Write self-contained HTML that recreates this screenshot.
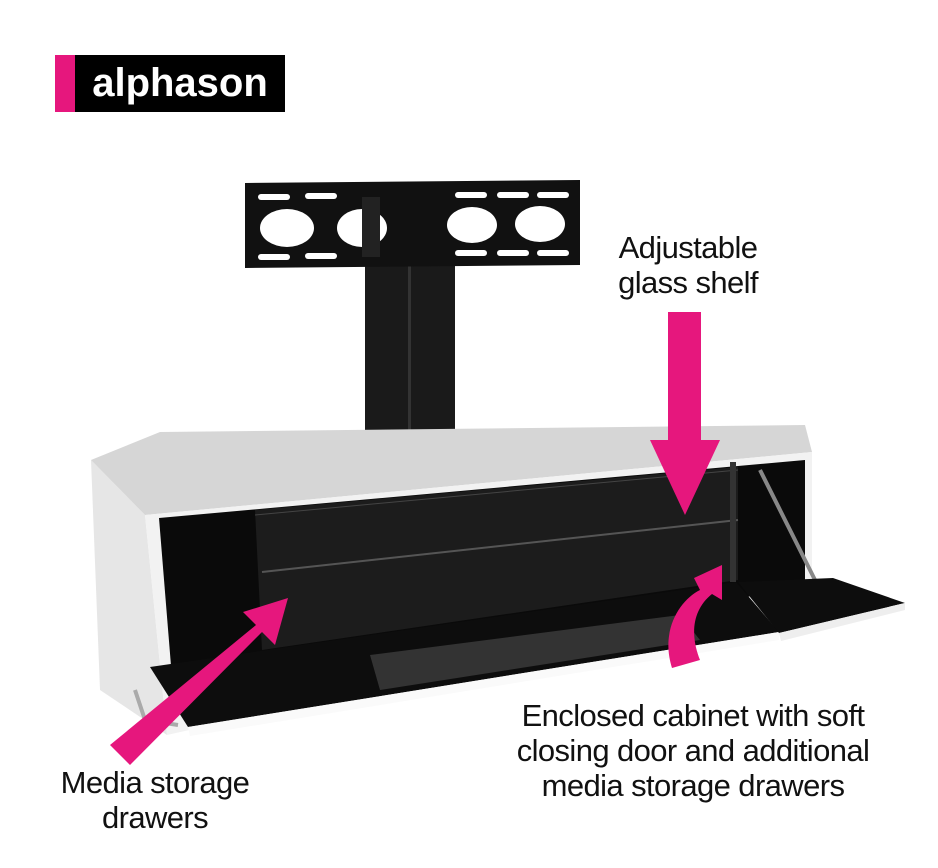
<!DOCTYPE html>
<html><head><meta charset="utf-8"><style>
html,body{margin:0;padding:0;background:#fff}
body{width:938px;height:868px;overflow:hidden;position:relative;font-family:"Liberation Sans",sans-serif}
.t{position:absolute;text-align:center;font-size:31px;line-height:35px;color:#111;letter-spacing:-0.6px}
</style></head><body>
<svg width="938" height="868" style="position:absolute;left:0;top:0">
<rect x="55" y="55" width="20" height="57" fill="#e6177d"/>
<rect x="75" y="55" width="210" height="57" fill="#000"/>
<text x="180" y="96" text-anchor="middle" font-family="Liberation Sans" font-weight="bold" font-size="40" fill="#fff">alphason</text>
<rect x="365" y="262" width="90" height="175" fill="#1a1a1a"/>
<rect x="408" y="262" width="3" height="175" fill="#333"/>
<path d="M245,183 L580,180 L580,265 L245,268 Z" fill="#111"/>
<g fill="#fff">
<ellipse cx="287" cy="228" rx="27" ry="19"/>
<ellipse cx="362" cy="228" rx="25" ry="19"/>
<ellipse cx="472" cy="225" rx="25" ry="18"/>
<ellipse cx="540" cy="224" rx="25" ry="18"/>
<rect x="258" y="194" width="32" height="6" rx="3"/><rect x="305" y="193" width="32" height="6" rx="3"/>
<rect x="455" y="192" width="32" height="6" rx="3"/><rect x="497" y="192" width="32" height="6" rx="3"/><rect x="537" y="192" width="32" height="6" rx="3"/>
<rect x="258" y="254" width="32" height="6" rx="3"/><rect x="305" y="253" width="32" height="6" rx="3"/>
<rect x="455" y="250" width="32" height="6" rx="3"/><rect x="497" y="250" width="32" height="6" rx="3"/><rect x="537" y="250" width="32" height="6" rx="3"/>
</g>
<rect x="362" y="197" width="18" height="60" fill="#222"/>
<path d="M91,460 L145,515 L167,735 L100,690 Z" fill="#e6e6e6"/>
<path d="M91,460 L160,432 L805,425 L812,452 L145,515 Z" fill="#d6d6d6"/>
<path d="M145,515 L812,452 L812,590 L167,735 Z" fill="#f2f2f2"/>
<path d="M159,518 L805,460 L805,585 L175,715 Z" fill="#0a0a0a"/>
<path d="M255,510 L738,467 L738,580 L262,650 Z" fill="#1c1c1c"/>
<line x1="262" y1="572" x2="738" y2="520" stroke="#555" stroke-width="2"/>
<line x1="255" y1="515" x2="738" y2="470" stroke="#444" stroke-width="1"/>
<rect x="730" y="462" width="6" height="120" fill="#333"/>
<line x1="760" y1="470" x2="815" y2="580" stroke="#888" stroke-width="4"/>
<path d="M150,667 L736,582 L779,632 L188,727 Z" fill="#0d0d0d"/>
<path d="M188,727 L779,632 L779,640 L190,736 Z" fill="#fafafa"/>
<path d="M370,655 L680,615 L700,640 L380,690 Z" fill="#333"/>
<path d="M135,690 L145,720 L178,725" stroke="#aaa" stroke-width="4" fill="none"/>
<path d="M738,582 L833,578 L905,603 L779,633 Z" fill="#0d0d0d"/>
<path d="M779,633 L905,603 L905,610 L781,641 Z" fill="#eee"/>
<g fill="#e6177d">
<rect x="668" y="312" width="33" height="130"/>
<path d="M650,440 L720,440 L685,515 Z"/>
<path d="M110,745 L130,765 L262,632 L275,645 L288,598 L243,612 L256,625 Z"/>
<path d="M672,668 C660,630 680,600 700,590 L694,578 L722,565 L722,600 L712,594 C692,610 690,635 700,660 Z"/>
</g>
</svg>
<div class="t" style="left:568px;top:230px;width:240px">Adjustable<br>glass shelf</div>
<div class="t" style="left:10px;top:765px;width:290px">Media storage<br>drawers</div>
<div class="t" style="left:463px;top:698px;width:460px">Enclosed cabinet with soft<br>closing door and additional<br>media storage drawers</div>
</body></html>
